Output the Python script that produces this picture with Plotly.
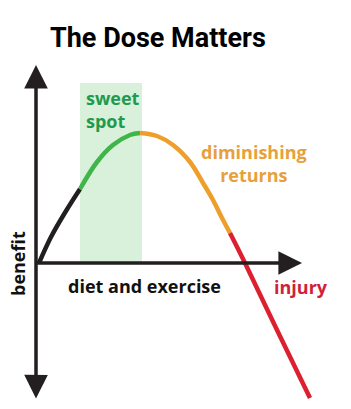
import plotly.graph_objects as go

# Curve: dose (x) vs benefit (y), split into coloured stretches
black_x = [0.3, 1.5, 3.0, 4.4]
black_y = [0.0, 2.6, 5.2, 7.4]
green_x = [4.4, 6.1, 7.7, 9.4, 10.4]
green_y = [7.4, 10.1, 11.8, 12.8, 13.0]
orange_x = [10.4, 12.1, 13.7, 15.4, 16.7, 17.7, 18.6, 19.4]
orange_y = [13.0, 12.7, 11.8, 10.1, 8.0, 6.3, 4.5, 3.0]
red_x = [19.4, 20.9, 24.1, 27.4]
red_y = [3.0, 0.0, -6.7, -13.5]

sweet_spot = [4.4, 10.6]
sweet_top = 18.0

title = "The Dose Matters"
labels = {"sweet": "sweet<br>spot", "dim": "diminishing<br>returns",
          "x": "diet and exercise", "inj": "injury", "y": "benefit"}

fig = go.Figure()

fig.add_shape(type="rect", x0=sweet_spot[0], x1=sweet_spot[1], y0=0, y1=sweet_top,
              fillcolor="#d9f0da", line_width=0, layer="below")

for xs, ys, col in [(black_x, black_y, "#231f20"), (green_x, green_y, "#40b549"),
                    (orange_x, orange_y, "#ee9f2b"), (red_x, red_y, "#dd2030")]:
    fig.add_trace(go.Scatter(x=xs, y=ys, mode="lines",
                             line=dict(color=col, width=4.5, shape="spline", smoothing=1.0),
                             hoverinfo="skip", showlegend=False))

# axes with arrows
fig.add_annotation(x=0, y=19.8, ax=0, ay=-13.7, xref="x", yref="y", axref="x", ayref="y",
                   showarrow=True, arrowhead=2, arrowside="end+start", arrowwidth=3.5,
                   arrowsize=1.35, arrowcolor="#231f20", text="")
fig.add_annotation(x=26.6, y=0, ax=-0.15, ay=0, xref="x", yref="y", axref="x", ayref="y",
                   showarrow=True, arrowhead=2, arrowwidth=3.5, arrowsize=1.35,
                   arrowcolor="#231f20", text="")

lab_font = "Open Sans"
fig.add_annotation(x=1.2, y=22.5, xref="x", yref="y", text="<b>" + title + "</b>",
                   showarrow=False, xanchor="left", yanchor="middle",
                   font=dict(family="Roboto", size=27, color="#000000"))
fig.add_annotation(x=4.8, y=15.4, xref="x", yref="y", text="<b>" + labels["sweet"] + "</b>",
                   showarrow=False, xanchor="left", yanchor="middle", align="left",
                   font=dict(family=lab_font, size=18, color="#1f9a4f"))
fig.add_annotation(x=21.8, y=10.0, xref="x", yref="y", text="<b>" + labels["dim"] + "</b>",
                   showarrow=False, xanchor="center", yanchor="middle", align="center",
                   font=dict(family=lab_font, size=18, color="#e8a03a"))
fig.add_annotation(x=10.8, y=-2.3, xref="x", yref="y", text="<b>" + labels["x"] + "</b>",
                   showarrow=False, xanchor="center", yanchor="middle",
                   font=dict(family=lab_font, size=18, color="#111111"))
fig.add_annotation(x=26.5, y=-2.4, xref="x", yref="y", text="<b>" + labels["inj"] + "</b>",
                   showarrow=False, xanchor="center", yanchor="middle",
                   font=dict(family=lab_font, size=18, color="#cf2239"))
fig.add_annotation(x=-1.8, y=-0.1, xref="x", yref="y", text="<b>" + labels["y"] + "</b>",
                   showarrow=False, textangle=-90, xanchor="center", yanchor="middle",
                   font=dict(family=lab_font, size=18, color="#111111"))

fig.update_layout(width=351, height=409, margin=dict(l=0, r=0, t=0, b=0),
                  paper_bgcolor="white", plot_bgcolor="white",
                  xaxis=dict(range=[-3.6, 31.5], visible=False, fixedrange=True),
                  yaxis=dict(range=[-14.6, 26.3], visible=False, fixedrange=True))

fig.write_html("out.html", config={"displayModeBar": False})
